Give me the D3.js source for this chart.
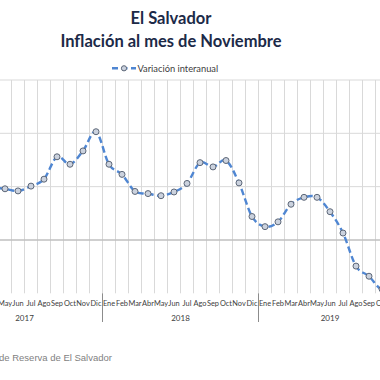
<!DOCTYPE html>
<html>
<head>
<meta charset="utf-8">
<script src="https://cdn.jsdelivr.net/npm/d3@7"></script>
<style>
  html, body { margin: 0; padding: 0; background: #fff; overflow: hidden; }
  svg { display: block; }
</style>
</head>
<body>
<svg id="chart" width="380" height="380"></svg>
<script>
// ---- data ----
const monthNames = ["Ene","Feb","Mar","Abr","May","Jun","Jul","Ago","Sep","Oct","Nov","Dic"];
const years = ["2017","2018","2019"];
const monthsPerYear = [12, 12, 11];
const values2017 = [1.30, 1.10, 1.00, 0.98, 0.96, 0.92, 1.01, 1.14, 1.56, 1.42, 1.67, 2.03];
const values2018 = [1.42, 1.23, 0.91, 0.87, 0.83, 0.90, 1.06, 1.45, 1.37, 1.49, 1.07, 0.44];
const values2019 = [0.25, 0.34, 0.67, 0.80, 0.80, 0.53, 0.13, -0.49, -0.68, -0.92, -0.70];
const yTicks = [-1, 0, 1, 2, 3];
const seriesName = "Variación interanual";
const title1 = "El Salvador";
const title2 = "Inflación al mes de Noviembre";
const source = "Fuente: Banco Central de Reserva de El Salvador";

// ---- build table ----
const allValues = [values2017, values2018, values2019];
const data = [];
years.forEach((y, yi) => {
  for (let m = 0; m < monthsPerYear[yi]; m++) {
    data.push({ key: y + "-" + m, year: y, month: monthNames[m], value: allValues[yi][m] });
  }
});

const svg = d3.select("#chart");
const plotTop = 80, plotBottom = 293.3;
const left = -53.5, right = left + data.length * 13;

const x = d3.scaleBand().domain(data.map(d => d.key)).range([left, right]).padding(0);
const y = d3.scaleLinear().domain([-1, 3]).range([plotBottom, plotTop]);

// horizontal gridlines
svg.append("g").selectAll("line").data(yTicks.filter(t => t !== 0 && t !== -1)).join("line")
  .attr("x1", left).attr("x2", right)
  .attr("y1", d => y(d)).attr("y2", d => y(d))
  .attr("stroke", "#d9d9d9").attr("stroke-width", 1);

// vertical gridlines at category boundaries
const bounds = data.map(d => x(d.key)).concat([right]);
svg.append("g").selectAll("line").data(bounds).join("line")
  .attr("x1", d => d).attr("x2", d => d)
  .attr("y1", plotTop).attr("y2", plotBottom)
  .attr("stroke", "#d9d9d9").attr("stroke-width", 1);

// zero axis line
svg.append("line")
  .attr("x1", left).attr("x2", right)
  .attr("y1", y(0)).attr("y2", y(0))
  .attr("stroke", "#bfbfbf").attr("stroke-width", 1.6);

// month labels
svg.append("g").selectAll("text").data(data).join("text")
  .attr("x", d => x(d.key) + x.bandwidth() / 2)
  .attr("y", 306)
  .attr("text-anchor", "middle")
  .attr("fill", "#404040")
  .style("font-family", "Lato")
  .style("font-size", "7.4px")
  .text(d => d.month);

// year groups
let start = 0;
const groups = years.map((yr, i) => {
  const g = { year: yr, x0: x(data[start].key), x1: x(data[start + monthsPerYear[i] - 1].key) + x.bandwidth() };
  start += monthsPerYear[i];
  return g;
});
svg.append("g").selectAll("text").data(groups).join("text")
  .attr("x", d => (d.x0 + d.x1) / 2)
  .attr("y", 320.5)
  .attr("text-anchor", "middle")
  .attr("fill", "#404040")
  .style("font-family", "Lato")
  .style("font-size", "8px")
  .text(d => d.year);
const seps = [groups[0].x0].concat(groups.map(g => g.x1));
svg.append("g").selectAll("line").data(seps).join("line")
  .attr("x1", d => d).attr("x2", d => d)
  .attr("y1", plotBottom).attr("y2", 322)
  .attr("stroke", "#8c8c8c").attr("stroke-width", 1);

// line
const line = d3.line()
  .x(d => x(d.key) + x.bandwidth() / 2)
  .y(d => y(d.value))
  .curve(d3.curveCardinal.tension(0));
const blue = "#4f86d2";
svg.append("path").datum(data)
  .attr("d", line)
  .attr("fill", "none")
  .attr("stroke", blue)
  .attr("stroke-width", 2.4)
  .attr("stroke-dasharray", "6.5,3.5");

// markers
svg.append("g").selectAll("circle").data(data).join("circle")
  .attr("cx", d => x(d.key) + x.bandwidth() / 2)
  .attr("cy", d => y(d.value))
  .attr("r", 3)
  .attr("fill", "#cbd2de")
  .attr("stroke", "#5d6778")
  .attr("stroke-width", 1);

// titles
svg.append("text").attr("x", 171).attr("y", 23.5).attr("text-anchor", "middle")
  .attr("fill", "#1c2a48").style("font-family", "Lato").style("font-weight", "bold")
  .style("font-size", "16.5px").text(title1);
svg.append("text").attr("x", 171).attr("y", 46.5).attr("text-anchor", "middle")
  .attr("fill", "#1c2a48").style("font-family", "Lato").style("font-weight", "bold")
  .style("font-size", "16.5px").text(title2);

// legend
svg.append("line").attr("x1", 112).attr("x2", 136).attr("y1", 68.3).attr("y2", 68.3)
  .attr("stroke", blue).attr("stroke-width", 2.4).attr("stroke-dasharray", "6,3.5");
svg.append("circle").attr("cx", 124).attr("cy", 68.3).attr("r", 2.6)
  .attr("fill", "#cbd2de").attr("stroke", "#5d6778").attr("stroke-width", 1);
svg.append("text").attr("x", 137.5).attr("y", 71.5)
  .attr("fill", "#404040").style("font-family", "Lato").style("font-size", "9.3px")
  .text(seriesName);

// source
svg.append("text").attr("x", 112).attr("y", 361).attr("text-anchor", "end")
  .attr("fill", "#7f7f7f").style("font-family", "Liberation Sans").style("font-size", "9.5px")
  .text(source);
</script>
</body>
</html>
